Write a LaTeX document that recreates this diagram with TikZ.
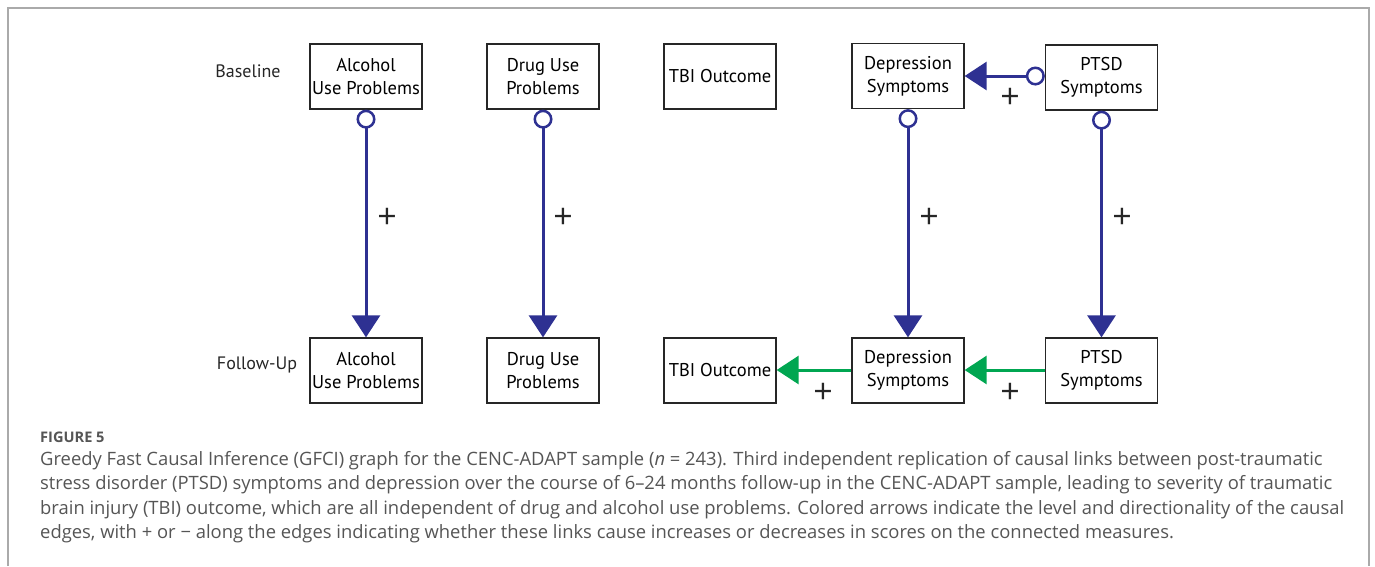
\documentclass[tikz,border=0pt]{standalone}
\usepackage{fontspec}
\setmainfont{PT Sans}
\newfontfamily\capfont{Open Sans}
\usetikzlibrary{arrows.meta}
\definecolor{edgeblue}{HTML}{2E3192}
\definecolor{edgegreen}{HTML}{00A651}
\definecolor{capgray}{HTML}{555555}
\definecolor{framegray}{HTML}{AAAAAA}
\tikzset{
  var/.style={draw=black!85, line width=1.3pt, minimum width=112pt, minimum height=65pt,
    inner sep=0pt, align=center, font=\fontsize{18.5}{23}\selectfont},
  rowlab/.style={font=\fontsize{18}{20}\selectfont, text=black!85},
  plusl/.style={font=\capfont\fontsize{34}{34}\selectfont, text=black!85, inner sep=0pt},
  bedge/.style={draw=edgeblue, line width=3pt,
    {Circle[open,length=19pt,width=19pt,line width=2.5pt]}-{Triangle[width=28pt,length=22pt]}},
  gedge/.style={draw=edgegreen, line width=3pt, -{Triangle[width=28pt,length=22pt]}},
}
\begin{document}
\begin{tikzpicture}[x=1pt,y=-1pt]
\useasboundingbox (0,0) rectangle (1375,566);
\draw[framegray, line width=1.5pt] (8,566) -- (8,8) -- (1369,8) -- (1369,566);

% row labels
\node[rowlab] (bl) at (248,71) {Baseline};
\node[rowlab] (fu) at (257,365) {Follow-Up};

% baseline
\node[var] (a1) at (366,76.5) {Alcohol\\Use Problems};
\node[var] (d1) at (543,76.5) {Drug Use\\Problems};
\node[var] (t1) at (720,76.5) {TBI Outcome};
\node[var] (p1) at (908,76) {Depression\\Symptoms};
\node[var] (s1) at (1101.5,77.5) {PTSD\\Symptoms};

% follow-up
\node[var] (a2) at (366,370.5) {Alcohol\\Use Problems};
\node[var] (d2) at (543,370.5) {Drug Use\\Problems};
\node[var] (t2) at (720,370.5) {TBI Outcome};
\node[var] (p2) at (908,370.5) {Depression\\Symptoms};
\node[var] (s2) at (1101.5,370.5) {PTSD\\Symptoms};

% edges
\draw[bedge] (a1.south) -- (a2.north);
\draw[bedge] (d1.south) -- (d2.north);
\draw[bedge] (p1.south) -- (p2.north);
\draw[bedge] (s1.south) -- (s2.north);
\draw[bedge] (s1.west |- 0,76) -- (p1.east |- 0,76);
\draw[gedge] (p2.west |- 0,370) -- (t2.east |- 0,370);
\draw[gedge] (s2.west |- 0,370) -- (p2.east |- 0,370);

% signs
\node[plusl] (sa) at (387,218) {+};
\node[plusl] (sd) at (563,218) {+};
\node[plusl] (sp) at (929,218) {+};
\node[plusl] (ss) at (1122,218) {+};
\node[plusl] (sh) at (1010,98) {+};
\node[plusl] (sg1) at (823,393) {+};
\node[plusl] (sg2) at (1010,393) {+};

% caption
\node[anchor=west, inner sep=0pt, text=capgray, font=\capfont\fontsize{14.6}{14.6}\selectfont\bfseries] (fig) at (40,437) {FIGURE 5};
\node[anchor=north west, inner sep=0pt, text=capgray, align=left,
  font=\capfont\fontsize{18.4}{24.4}\selectfont] (cap) at (40,451) {%
Greedy Fast Causal Inference (GFCI) graph for the CENC-ADAPT sample (\textit{n} = 243). Third independent replication of causal links between post-traumatic\\
stress disorder (PTSD) symptoms and depression over the course of 6–24 months follow-up in the CENC-ADAPT sample, leading to severity of traumatic\\
brain injury (TBI) outcome, which are all independent of drug and alcohol use problems. Colored arrows indicate the level and directionality of the causal\\
edges, with + or − along the edges indicating whether these links cause increases or decreases in scores on the connected measures.};
\end{tikzpicture}
\end{document}
